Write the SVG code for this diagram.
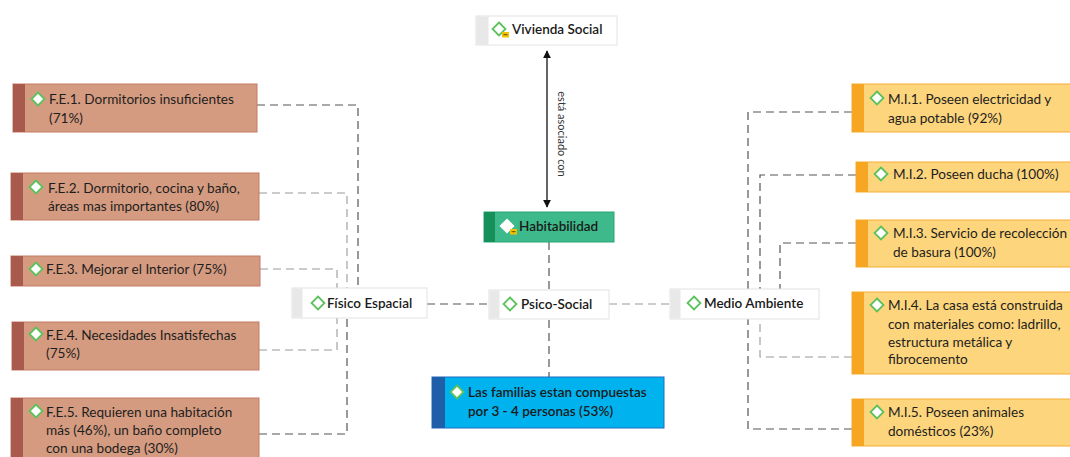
<svg xmlns="http://www.w3.org/2000/svg" width="1070" height="457" viewBox="0 0 1070 457">
<style>
.t{font-family:Lato,"Open Sans","Liberation Sans",sans-serif;font-size:13.6px;fill:#1e1e1e;}
.tm{font-family:Lato,"Open Sans","Liberation Sans",sans-serif;font-size:13.5px;fill:#1a1a1a;font-weight:600;}
.lbl{font-family:Lato,"Open Sans","Liberation Sans",sans-serif;font-size:11px;fill:#333;}
.fe{fill:#d59b80;stroke:#c47a63;stroke-width:1;}
.fes{fill:#a85a4c;}
.mi{fill:#fdd57c;stroke:#f5ae35;stroke-width:1;}
.mis{fill:#f6a623;}
.wb{fill:#ffffff;stroke:#e2e2e2;stroke-width:1;}
.wbs{fill:#e8e8e8;}
.d{fill:none;stroke:#555;stroke-width:1.2;stroke-dasharray:8 5;}
.dl{fill:none;stroke:#9a9a9a;stroke-width:1.1;stroke-dasharray:8 5;}
.ic{fill:#ffffff;stroke:#5cc25c;stroke-width:1.8;}
</style>
<defs>
<marker id="ah" viewBox="0 0 10 10" refX="9" refY="5" markerWidth="8" markerHeight="9" markerUnits="userSpaceOnUse" orient="auto-start-reverse">
<path d="M0,0 L10,5 L0,10 Z" fill="#111"/>
</marker>
<polygon id="dia" points="0,-6.5 6.5,0 0,6.5 -6.5,0" class="ic"/>
<g id="badge"><rect x="3" y="3" width="7" height="5.5" fill="#f2c300"/><rect x="4.5" y="5.2" width="4" height="1" fill="#5a4a00"/></g>
</defs>

<g id="connectors">
<path class="d" d="M257,105 H358 V288"/>
<path class="dl" d="M259,193 H347 V288"/>
<path class="dl" d="M260,269 H337 V288"/>
<path class="dl" d="M259,350 H337 V318"/>
<path class="d" d="M259,434 H347 V318"/>
<path class="d" d="M427,304 H489"/>
<path class="dl" d="M609,304 H670"/>
<path class="d" d="M549,242 V377"/>
<path d="M547,51 V207" stroke="#111" stroke-width="1.3" fill="none" marker-start="url(#ah)" marker-end="url(#ah)"/>
<text class="lbl" x="558" y="134" text-anchor="middle" transform="rotate(90 558 134)">está asociado con</text>
<path class="d" d="M852,112 H748 V289"/>
<path class="d" d="M856,175 H760 V289"/>
<path class="d" d="M856,243 H780 V289"/>
<path class="dl" d="M852,357 H760 V319"/>
<path class="d" d="M852,429 H748 V319"/>
</g>

<g id="vivienda-social">
<rect class="wb" x="476" y="16" width="141" height="29"/>
<rect class="wbs" x="476.5" y="16.5" width="12" height="28"/>
<use href="#dia" x="499" y="29"/>
<use href="#badge" x="499" y="29"/>
<text class="tm" x="512" y="34">Vivienda Social</text>
</g>

<g id="habitabilidad">
<rect x="484" y="212" width="130" height="30" fill="#3db98b" stroke="#2aa575"/>
<rect x="484" y="212" width="11" height="30" fill="#15905b"/>
<polygon points="507,219.5 513.5,226 507,232.5 500.5,226" fill="#fff" stroke="#fff" stroke-width="1.5"/>
<use href="#badge" x="507" y="226"/>
<text class="tm" x="519" y="231">Habitabilidad</text>
</g>

<g id="fisico-espacial">
<rect class="wb" x="292" y="288" width="135" height="30"/>
<rect class="wbs" x="292.5" y="288.5" width="10" height="29"/>
<use href="#dia" x="318" y="303"/>
<text class="tm" x="327" y="308">Físico Espacial</text>
</g>

<g id="psico-social">
<rect class="wb" x="489" y="290" width="120" height="29"/>
<rect class="wbs" x="489.5" y="290.5" width="10" height="28"/>
<use href="#dia" x="510" y="304"/>
<text class="tm" x="521" y="309">Psico-Social</text>
</g>

<g id="medio-ambiente">
<rect class="wb" x="670" y="289" width="149" height="30"/>
<rect class="wbs" x="670.5" y="289.5" width="10" height="29"/>
<use href="#dia" x="694" y="303"/>
<text class="tm" x="704" y="308">Medio Ambiente</text>
</g>

<g id="familias">
<rect x="432" y="377" width="232" height="51" fill="#00b2ee" stroke="#1f6cc0"/>
<rect x="432" y="377" width="13" height="51" fill="#1f5ea8"/>
<use href="#dia" x="457" y="392"/>
<text class="tm" x="468" y="397">Las familias estan compuestas</text>
<text class="tm" x="468" y="416">por 3 - 4 personas (53%)</text>
</g>

<g id="fe1">
<rect class="fe" x="13" y="84" width="244" height="48"/>
<rect class="fes" x="13" y="84" width="12" height="48"/>
<use href="#dia" x="38" y="99"/>
<text class="t" x="49" y="104">F.E.1. Dormitorios insuficientes</text>
<text class="t" x="49" y="122.5">(71%)</text>
</g>

<g id="fe2">
<rect class="fe" x="11" y="173" width="248" height="47"/>
<rect class="fes" x="11" y="173" width="12" height="47"/>
<use href="#dia" x="36" y="187"/>
<text class="t" x="48" y="192.5">F.E.2.  Dormitorio, cocina y baño,</text>
<text class="t" x="48" y="210.5">áreas mas importantes (80%)</text>
</g>

<g id="fe3">
<rect class="fe" x="11" y="256" width="249" height="30"/>
<rect class="fes" x="11" y="256" width="12" height="30"/>
<use href="#dia" x="36" y="269"/>
<text class="t" x="46" y="274">F.E.3. Mejorar el Interior (75%)</text>
</g>

<g id="fe4">
<rect class="fe" x="12" y="322" width="247" height="48"/>
<rect class="fes" x="12" y="322" width="12" height="48"/>
<use href="#dia" x="36" y="334"/>
<text class="t" x="46" y="339.5">F.E.4.  Necesidades Insatisfechas</text>
<text class="t" x="46" y="357.5">(75%)</text>
</g>

<g id="fe5">
<rect class="fe" x="11" y="398" width="248" height="70"/>
<rect class="fes" x="11" y="398" width="12" height="70"/>
<use href="#dia" x="36" y="411"/>
<text class="t" x="46" y="416.5">F.E.5. Requieren una habitación</text>
<text class="t" x="46" y="434.5">más (46%), un baño completo</text>
<text class="t" x="46" y="452.5">con una bodega (30%)</text>
</g>

<g id="mi1">
<rect class="mi" x="852" y="84" width="230" height="48"/>
<rect class="mis" x="852" y="84" width="12" height="48"/>
<use href="#dia" x="877" y="98"/>
<text class="t" x="888" y="104">M.I.1. Poseen electricidad y</text>
<text class="t" x="888" y="122.5">agua potable (92%)</text>
</g>

<g id="mi2">
<rect class="mi" x="856" y="162" width="226" height="30"/>
<rect class="mis" x="856" y="162" width="12" height="30"/>
<use href="#dia" x="881" y="174"/>
<text class="t" x="893" y="179">M.I.2. Poseen ducha (100%)</text>
</g>

<g id="mi3">
<rect class="mi" x="856" y="220" width="226" height="47"/>
<rect class="mis" x="856" y="220" width="12" height="47"/>
<use href="#dia" x="881" y="233"/>
<text class="t" x="893" y="238">M.I.3. Servicio de recolección</text>
<text class="t" x="893" y="256.5">de basura (100%)</text>
</g>

<g id="mi4">
<rect class="mi" x="852" y="292" width="230" height="82"/>
<rect class="mis" x="852" y="292" width="12" height="82"/>
<use href="#dia" x="877" y="305"/>
<text class="t" x="888" y="310">M.I.4. La casa está construida</text>
<text class="t" x="888" y="328.5">con materiales como: ladrillo,</text>
<text class="t" x="888" y="346.5">estructura metálica y</text>
<text class="t" x="888" y="363.5">fibrocemento</text>
</g>

<g id="mi5">
<rect class="mi" x="852" y="399" width="230" height="47"/>
<rect class="mis" x="852" y="399" width="12" height="47"/>
<use href="#dia" x="877" y="412"/>
<text class="t" x="888" y="417">M.I.5. Poseen animales</text>
<text class="t" x="888" y="435.5">domésticos (23%)</text>
</g>
</svg>
